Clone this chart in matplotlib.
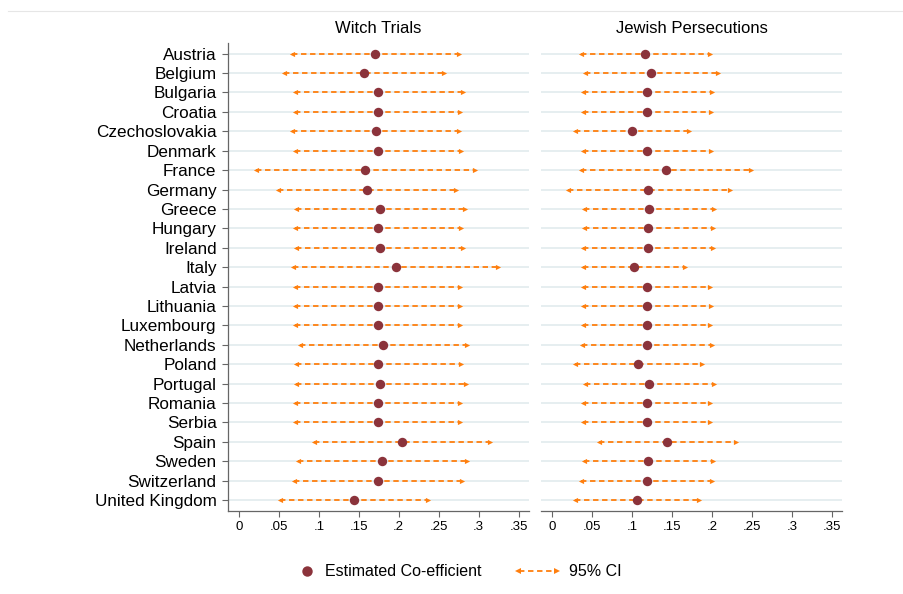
import numpy as np
import matplotlib
matplotlib.use("Agg")
import matplotlib.pyplot as plt
from matplotlib.lines import Line2D

plt.rcParams['font.family'] = ['Liberation Sans', 'DejaVu Sans']

countries = ["Austria", "Belgium", "Bulgaria", "Croatia", "Czechoslovakia", "Denmark",
             "France", "Germany", "Greece", "Hungary", "Ireland", "Italy", "Latvia",
             "Lithuania", "Luxembourg", "Netherlands", "Poland", "Portugal", "Romania",
             "Serbia", "Spain", "Sweden", "Switzerland", "United Kingdom"]

# Witch Trials: estimate, lower and upper 95% CI
witch_est = [0.170, 0.156, 0.174, 0.174, 0.171, 0.174, 0.158, 0.160, 0.177, 0.174, 0.176, 0.196,
             0.174, 0.174, 0.174, 0.180, 0.174, 0.177, 0.174, 0.174, 0.204, 0.179, 0.174, 0.144]
witch_lo = [0.066, 0.056, 0.070, 0.070, 0.066, 0.070, 0.021, 0.049, 0.071, 0.070, 0.071, 0.068,
            0.070, 0.070, 0.070, 0.076, 0.071, 0.071, 0.070, 0.070, 0.094, 0.074, 0.069, 0.052]
witch_hi = [0.275, 0.256, 0.280, 0.277, 0.275, 0.278, 0.295, 0.272, 0.283, 0.278, 0.281, 0.324,
            0.277, 0.277, 0.277, 0.285, 0.278, 0.284, 0.277, 0.277, 0.314, 0.285, 0.279, 0.236]

# Jewish Persecutions
jew_est = [0.116, 0.124, 0.119, 0.118, 0.100, 0.118, 0.142, 0.120, 0.121, 0.120, 0.120, 0.102,
           0.118, 0.119, 0.118, 0.118, 0.107, 0.121, 0.118, 0.118, 0.144, 0.120, 0.118, 0.106]
jew_lo = [0.036, 0.041, 0.039, 0.039, 0.029, 0.039, 0.036, 0.020, 0.040, 0.040, 0.039, 0.038,
          0.039, 0.039, 0.039, 0.037, 0.028, 0.041, 0.039, 0.039, 0.059, 0.040, 0.036, 0.029]
jew_hi = [0.197, 0.208, 0.200, 0.199, 0.171, 0.199, 0.249, 0.222, 0.202, 0.201, 0.201, 0.166,
          0.198, 0.199, 0.198, 0.200, 0.187, 0.202, 0.198, 0.198, 0.230, 0.201, 0.200, 0.184]

panels = [("Witch Trials", witch_est, witch_lo, witch_hi),
          ("Jewish Persecutions", jew_est, jew_lo, jew_hi)]

xticks = [0, 0.05, 0.1, 0.15, 0.2, 0.25, 0.3, 0.35]
xticklabels = ["0", ".05", ".1", ".15", ".2", ".25", ".3", ".35"]

point_col = "#8b333b"
ci_col = "#ff7f0e"
grid_col = "#e6eef0"
spine_col = "#666666"
dash = (0, (3.0, 2.0))

W, H = 904, 594
fig = plt.figure(figsize=(W / 100, H / 100), dpi=100)
# thin frame line at the top
fig.add_artist(Line2D([8 / W, 1], [1 - 11 / H, 1 - 11 / H], color="#e6e6e6", lw=0.8))

lefts = [0.2519, 0.5985]
y = np.arange(len(countries))

for i, (title, est, lo, hi) in enumerate(panels):
    ax = fig.add_axes([lefts[i], 0.1403, 0.3333, 0.7873])
    for yy in y:
        ax.axhline(yy, color=grid_col, lw=1.4, zorder=0)
    for k in range(len(countries)):
        ax.plot([lo[k], hi[k]], [y[k], y[k]], color=ci_col, lw=1.3, ls=dash, zorder=2)
    ax.scatter(lo, y, marker="<", s=14, color=ci_col, zorder=3, linewidths=0)
    ax.scatter(hi, y, marker=">", s=14, color=ci_col, zorder=3, linewidths=0)
    ax.scatter(est, y, s=46, color=point_col, zorder=4, linewidths=0)

    ax.set_xlim(-0.014, 0.363)
    ax.set_ylim(len(countries) - 0.45, -0.55)
    ax.set_xticks(xticks)
    ax.set_xticklabels(xticklabels, fontsize=9.5)
    ax.set_title(title, fontsize=12, pad=7)
    for s in ["top", "right"]:
        ax.spines[s].set_visible(False)
    ax.spines["bottom"].set_color(spine_col)
    ax.spines["bottom"].set_linewidth(0.9)
    ax.tick_params(axis="x", length=4.5, width=0.8, color=spine_col, pad=3)
    if i == 0:
        ax.set_yticks(y)
        ax.set_yticklabels(countries, fontsize=12.3)
        ax.spines["left"].set_color(spine_col)
        ax.spines["left"].set_linewidth(0.9)
        ax.tick_params(axis="y", length=4.5, width=0.8, color=spine_col, pad=3.5)
    else:
        ax.spines["left"].set_visible(False)
        ax.set_yticks([])

# legend drawn by hand in figure pixels
ly = 1 - 571 / H
fig.add_artist(Line2D([307 / W], [ly], ls="none", marker="o", markersize=7.5,
                      color=point_col, markeredgewidth=0))
fig.text(325 / W, ly, "Estimated Co-efficient", fontsize=11.5, va="center", ha="left")
fig.add_artist(Line2D([519 / W, 555 / W], [ly, ly], color=ci_col, lw=1.3, ls=dash))
fig.add_artist(Line2D([518 / W], [ly], ls="none", marker="<", markersize=4,
                      color=ci_col, markeredgewidth=0))
fig.add_artist(Line2D([557 / W], [ly], ls="none", marker=">", markersize=4,
                      color=ci_col, markeredgewidth=0))
fig.text(569 / W, ly, "95% CI", fontsize=11.5, va="center", ha="left")

plt.savefig("out.png", dpi=100)
